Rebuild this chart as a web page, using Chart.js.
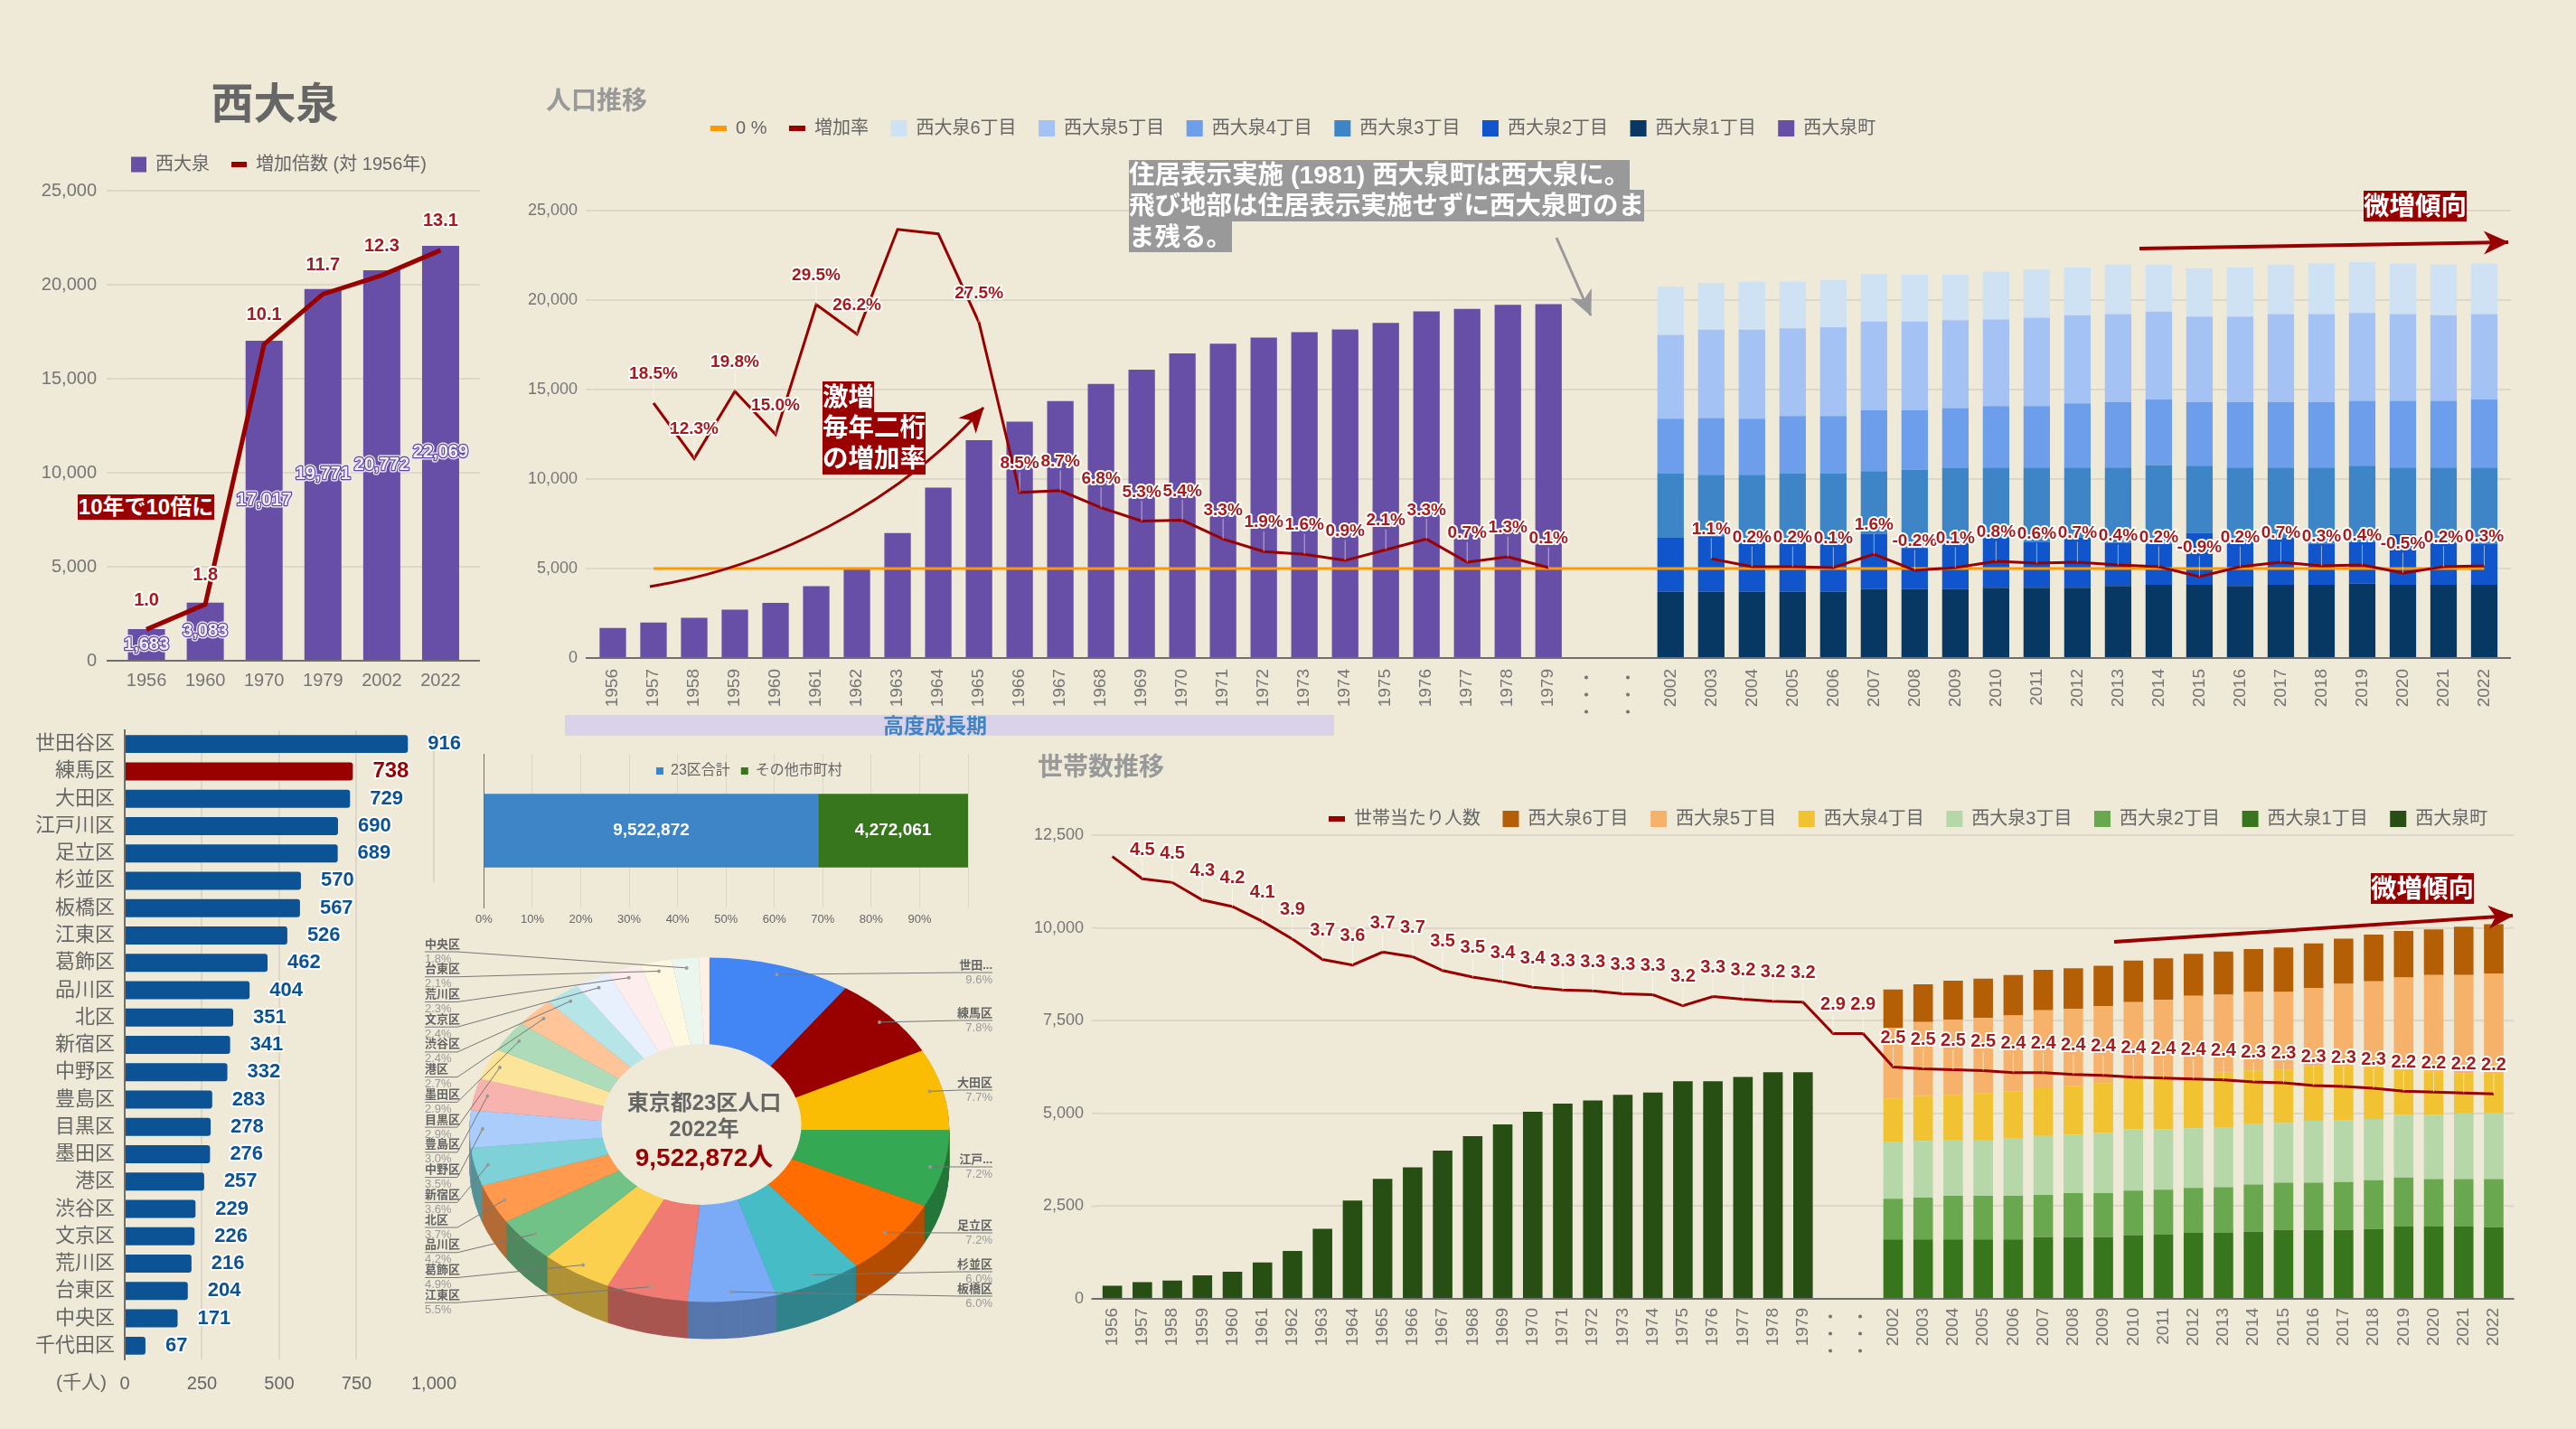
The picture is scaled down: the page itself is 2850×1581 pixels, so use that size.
<!DOCTYPE html>
<html lang="ja">
<head>
<meta charset="utf-8">
<title>西大泉 人口推移</title>
<script src="https://cdn.jsdelivr.net/npm/chart.js@4/dist/chart.umd.min.js"></script>
<style>
  html, body { margin: 0; background: #efe9d8; }
  body { position: relative; width: 2850px; height: 1581px; overflow: hidden;
         font-family: "Liberation Sans", "Noto Sans CJK JP", sans-serif; }
  canvas, svg, .title, .tag, .note { position: absolute; }
  svg { left: 0; top: 0; }
  .title { font-weight: bold; color: #999; font-size: 28px; line-height: 32px; white-space: nowrap; }
  .tag { background: #990000; color: #fff; font-weight: bold; font-size: 28.5px; white-space: nowrap; }
  .tag.gray { background: #999; }
  .note { white-space: nowrap; }
</style>
</head>
<body>
<canvas id="districts"></canvas>
<canvas id="pie"></canvas>
<canvas id="share"></canvas>
<canvas id="summary"></canvas>
<canvas id="population"></canvas>
<canvas id="households"></canvas>

<svg width="2850" height="1581">
  <defs>
    <marker id="headRed" markerWidth="10" markerHeight="10" refX="9" refY="5" orient="auto" markerUnits="userSpaceOnUse" viewBox="0 0 10 10" style="overflow:visible">
      <path d="M-18,-8 L10,5 L-18,18 L-10,5 Z" fill="#990000"/>
    </marker>
    <marker id="headGray" markerWidth="10" markerHeight="10" refX="9" refY="5" orient="auto" markerUnits="userSpaceOnUse" viewBox="0 0 10 10" style="overflow:visible">
      <path d="M-18,-8 L10,5 L-18,18 L-10,5 Z" fill="#999"/>
    </marker>
  </defs>
  <path d="M719 649 C 850 628, 990 560, 1088 451" fill="none" stroke="#990000" stroke-width="3" marker-end="url(#headRed)"/>
  <line x1="1722" y1="263" x2="1760" y2="349" stroke="#999" stroke-width="3" marker-end="url(#headGray)"/>
  <line x1="2367" y1="275" x2="2775" y2="268" stroke="#990000" stroke-width="4" marker-end="url(#headRed)"/>
  <line x1="2339" y1="1042" x2="2780" y2="1013" stroke="#990000" stroke-width="4" marker-end="url(#headRed)"/>
</svg>

<div class="title" style="left:304px;top:90px;transform:translateX(-50%);font-size:47px;line-height:50px;color:#666">西大泉</div>
<div class="title" style="left:604px;top:96px">人口推移</div>
<div class="title" style="left:1148px;top:833px">世帯数推移</div>

<div class="tag" style="left:86px;top:547px;width:151px;height:28px;line-height:28px;font-size:24px;text-align:center">10年で10倍に</div>
<div class="tag" style="left:910px;top:422px;height:34px;line-height:34px">激増</div>
<div class="tag" style="left:910px;top:456px;height:34px;line-height:34px">毎年二桁</div>
<div class="tag" style="left:910px;top:490px;height:35px;line-height:35px">の増加率</div>
<div class="tag gray" style="left:1249px;top:177px;height:33px;line-height:33px">住居表示実施 (1981) 西大泉町は西大泉に。</div>
<div class="tag gray" style="left:1249px;top:210px;height:35px;line-height:35px">飛び地部は住居表示実施せずに西大泉町のま</div>
<div class="tag gray" style="left:1249px;top:245px;height:34px;line-height:34px">ま残る。</div>
<div class="tag" style="left:2615px;top:211px;height:34px;line-height:34px">微増傾向</div>
<div class="tag" style="left:2623px;top:966px;height:34px;line-height:34px">微増傾向</div>
<div class="note" style="left:625px;top:791px;width:851px;height:23px;line-height:24px;background:#d9d2e9;color:#3d85c6;font-size:23px;font-weight:bold;text-align:center;box-sizing:border-box;padding-right:32px">高度成長期</div>
<div class="note" style="left:62px;top:1517px;font-size:21px;line-height:24px;color:#666">(千人)</div>

<script>
// ---- summary chart (left top)
const summaryYears = ['1956', '1960', '1970', '1979', '2002', '2022'];
const summaryPopulation = [1683, 3083, 17017, 19771, 20772, 22069];
const summaryMultiple = [1.0, 1.8, 10.1, 11.7, 12.3, 13.1];

// ---- population chart
const earlyYears = ['1956', '1957', '1958', '1959', '1960', '1961', '1962', '1963', '1964', '1965', '1966', '1967',
  '1968', '1969', '1970', '1971', '1972', '1973', '1974', '1975', '1976', '1977', '1978', '1979'];
const gapLabels = ['・・・', '・・・'];
const lateYears = ['2002', '2003', '2004', '2005', '2006', '2007', '2008', '2009', '2010', '2011', '2012',
  '2013', '2014', '2015', '2016', '2017', '2018', '2019', '2020', '2021', '2022'];

const townPopulation = [1683, 1980, 2246, 2705, 3083, 4010, 4950, 6980, 9516, 12170, 13210, 14350,
  15310, 16110, 17017, 17560, 17900, 18210, 18360, 18720, 19370, 19510, 19730, 19771];
const pop1 = [3702, 3702, 3702, 3702, 3702, 3862, 3862, 3862, 3930, 3930, 3930, 4022, 4090, 4090, 4022, 4090, 4090, 4159, 4090, 4090, 4090];
const pop2 = [3016, 3062, 2833, 2902, 3016, 3085, 2285, 2582, 2788, 2559, 2788, 2422, 2285, 2902, 2514, 2628, 2285, 2331, 2856, 2354, 2285];
const pop3 = [3610, 3473, 3702, 3725, 3610, 3496, 4387, 4159, 3930, 4159, 3930, 4204, 4410, 3747, 4113, 3930, 4273, 4250, 3702, 4204, 4273];
const pop4 = [3039, 3176, 3130, 3199, 3199, 3405, 3313, 3359, 3428, 3428, 3587, 3656, 3656, 3565, 3656, 3656, 3656, 3633, 3725, 3725, 3793];
const pop5 = [4684, 4936, 4981, 4890, 4958, 4958, 4958, 4913, 4844, 4936, 4913, 4913, 4913, 4776, 4776, 4913, 4913, 4913, 4844, 4776, 4776];
const pop6 = [2696, 2605, 2673, 2605, 2628, 2651, 2605, 2536, 2673, 2696, 2673, 2765, 2628, 2696, 2742, 2765, 2833, 2833, 2833, 2833, 2833];
const earlyRate = [null, 18.5, 12.3, 19.8, 15.0, 29.5, 26.2, 37.9, 37.4, 27.5, 8.5, 8.7,
  6.8, 5.3, 5.4, 3.3, 1.9, 1.6, 0.9, 2.1, 3.3, 0.7, 1.3, 0.1];
const lateRate = [null, 1.1, 0.2, 0.2, 0.1, 1.6, -0.2, 0.1, 0.8, 0.6, 0.7, 0.4, 0.2, -0.9, 0.2, 0.7, 0.3, 0.4, -0.5, 0.2, 0.3];
const rateWithoutLabel = ['1963', '1964'];

// ---- households chart
const townHouseholds = [356, 453, 496, 636, 733, 981, 1294, 1887, 2652, 3234, 3547, 3999,
  4387, 4700, 5045, 5261, 5347, 5498, 5562, 5864, 5864, 5983, 6112, 6112];
const hh1 = [1600, 1600, 1600, 1600, 1600, 1660, 1660, 1660, 1720, 1730, 1790, 1790, 1810, 1860, 1860, 1860, 1880, 1950, 1950, 1950, 1930];
const hh2 = [1100, 1130, 1180, 1180, 1180, 1140, 1190, 1190, 1200, 1210, 1200, 1220, 1270, 1270, 1270, 1290, 1320, 1320, 1280, 1280, 1300];
const hh3 = [1520, 1530, 1510, 1510, 1540, 1590, 1570, 1620, 1650, 1630, 1610, 1620, 1630, 1610, 1670, 1670, 1650, 1690, 1730, 1770, 1780];
const hh4 = [1180, 1210, 1210, 1250, 1280, 1310, 1310, 1350, 1350, 1350, 1330, 1470, 1450, 1440, 1480, 1460, 1400, 1220, 1170, 1080, 1070];
const hh5 = [1910, 1990, 2030, 2030, 2040, 2080, 2090, 2070, 2080, 2140, 2240, 2100, 2110, 2090, 2100, 2210, 2310, 2480, 2600, 2650, 2690];
const hh6 = [1030, 1020, 1050, 1060, 1090, 1090, 1090, 1090, 1120, 1120, 1130, 1160, 1160, 1200, 1200, 1220, 1260, 1260, 1230, 1300, 1330];
const earlySize = [4.77, 4.53, 4.49, 4.30, 4.23, 4.07, 3.88, 3.66, 3.60, 3.74, 3.69, 3.54,
  3.47, 3.42, 3.36, 3.33, 3.32, 3.29, 3.28, 3.16, 3.26, 3.23, 3.21, 3.20];
const gapSize = [2.86, 2.86];
const lateSize = [2.50, 2.48, 2.47, 2.46, 2.44, 2.44, 2.42, 2.41, 2.39, 2.38, 2.37, 2.36, 2.34, 2.33, 2.30, 2.29, 2.27, 2.24, 2.23, 2.22, 2.21];
const sizeWithoutLabel = ['1956'];

// ---- 23 wards, thousands of people
const wardNames = ['世田谷区', '練馬区', '大田区', '江戸川区', '足立区', '杉並区', '板橋区', '江東区', '葛飾区', '品川区', '北区', '新宿区',
  '中野区', '豊島区', '目黒区', '墨田区', '港区', '渋谷区', '文京区', '荒川区', '台東区', '中央区', '千代田区'];
const wardValues = [916, 738, 729, 690, 689, 570, 567, 526, 462, 404, 351, 341, 332, 283, 278, 276, 257, 229, 226, 216, 204, 171, 67];
const pieColors = ['#4285f4', '#990000', '#fbbc04', '#34a853', '#ff6d01', '#46bdc6', '#7baaf7', '#f07b72', '#fcd04f', '#71c287', '#ff994d', '#7ed1d7',
  '#abcdfb', '#f7b4ae', '#fde49b', '#aedcba', '#ffc599', '#b5e5e7', '#e8f0fe', '#fdeeed', '#fff8e1', '#ebf7ee', '#fff0e6'];

// ---- tokyo share
const shareLabels = ['23区合計', 'その他市町村'];
const shareValues = [9522872, 4272061];

const FONT = '"Liberation Sans", "Noto Sans CJK JP", sans-serif';
const GRID = '#dcd7c8';
const AXIS = '#6e6e6e';
const TICK = '#757575';
const RED = '#990000';
const LABEL_RED = '#a61c1c';
const BG = '#efe9d8';

Chart.defaults.font.family = FONT;
Chart.defaults.color = TICK;
Chart.defaults.animation = false;
Chart.defaults.locale = 'en-US';

// value labels with a halo, the chart library has none of its own
const haloLabels = {
  id: 'haloLabels',
  afterDatasetsDraw(chart) {
    const ctx = chart.ctx;
    chart.data.datasets.forEach((ds, d) => {
      const h = ds.halo;
      if (!h) return;
      chart.getDatasetMeta(d).data.forEach((el, i) => {
        const v = ds.data[i];
        if (v === null || v === undefined) return;
        if (h.skip && h.skip.includes(chart.data.labels[i])) return;
        const size = h.size instanceof Function ? h.size(i) : h.size;
        const color = h.color instanceof Function ? h.color(i) : h.color;
        let x = el.x, y = el.y;
        ctx.save();
        ctx.font = `bold ${size}px ${FONT}`;
        ctx.textAlign = 'center';
        ctx.textBaseline = 'middle';
        if (h.mode === 'center') {
          if (chart.options.indexAxis === 'y') x = (el.x + el.base) / 2;
          else y = (el.y + el.base) / 2;
        } else if (h.mode === 'end') {
          x = el.x + h.gap;
          ctx.textAlign = 'left';
        } else {
          if (h.leader) {
            ctx.strokeStyle = 'rgba(255,255,255,0.55)';
            ctx.lineWidth = 1;
            ctx.beginPath();
            ctx.moveTo(x, y);
            ctx.lineTo(x, y - h.dy + size / 2);
            ctx.stroke();
          }
          y -= h.dy;
        }
        const text = h.format(v);
        ctx.lineJoin = 'round';
        if (h.halo !== false) {
          ctx.strokeStyle = h.haloColor || '#fff';
          ctx.lineWidth = h.haloWidth || 4;
          ctx.strokeText(text, x, y);
        }
        if (h.rim) {
          ctx.strokeStyle = h.rim;
          ctx.lineWidth = h.rimWidth;
          ctx.strokeText(text, x, y);
        }
        ctx.fillStyle = color;
        ctx.fillText(text, x, y);
        ctx.restore();
      });
    });
  },
};

// legend sits at a fixed spot instead of centred over the canvas
const legendAt = {
  id: 'legendAt',
  afterLayout(chart, args, opts) {
    if (opts.x === undefined || !chart.legend) return;
    const l = chart.legend;
    l.left = opts.x;
    l.right = chart.width;
    l.top = opts.y;
    l.bottom = opts.y + 70;
  },
};

// grid and base line run a little past the first and last bar
const gridBleed = {
  id: 'gridBleed',
  beforeDatasetsDraw(chart, args, opts) {
    if (opts.left === undefined) return;
    const ctx = chart.ctx, y = chart.scales.y, area = chart.chartArea;
    ctx.save();
    ctx.lineWidth = 2;
    y.ticks.forEach((t, i) => {
      const py = y.getPixelForTick(i);
      ctx.strokeStyle = t.value === 0 ? AXIS : GRID;
      ctx.beginPath();
      ctx.moveTo(area.left - opts.left, py);
      ctx.lineTo(area.left, py);
      ctx.moveTo(area.right, py);
      ctx.lineTo(area.right + opts.right, py);
      ctx.stroke();
    });
    ctx.restore();
  },
};
Chart.register(haloLabels, legendAt, gridBleed);

function mount(id, rect) {
  const c = document.getElementById(id);
  c.width = rect.w;
  c.height = rect.h;
  c.style.left = rect.x + 'px';
  c.style.top = rect.y + 'px';
  return c;
}

function layoutFor(rect, plot, legendH, axisW) {
  return {
    padding: {
      left: plot.l - rect.x - axisW,
      top: plot.t - rect.y - legendH,
      right: rect.x + rect.w - plot.r,
      bottom: 0,
    },
  };
}

function legendOptions(rect, x, cy, fontSize, box, gap) {
  return {
    legend: {
      display: true,
      position: 'top',
      align: 'start',
      reverse: true,
      labels: {
        usePointStyle: true,
        pointStyleWidth: box,
        boxHeight: box,
        padding: gap,
        color: '#666',
        font: { size: fontSize },
        generateLabels(chart) {
          const items = Chart.defaults.plugins.legend.labels.generateLabels(chart);
          items.forEach((it) => {
            const isLine = chart.data.datasets[it.datasetIndex].type === 'line';
            it.pointStyle = isLine ? 'line' : 'rect';
            it.lineWidth = isLine ? 6 : 0;
          });
          return items.sort((a, b) => a.datasetIndex - b.datasetIndex);
        },
      },
    },
    legendAt: { x: x - gap - rect.x, y: cy - fontSize / 2 - gap - rect.y },
  };
}

function yScale(axisW, max, step, pad, fontSize) {
  return {
    min: 0,
    max,
    afterFit(s) { s.width = axisW; },
    ticks: { stepSize: step, padding: pad, font: { size: fontSize } },
    grid: { color: GRID, lineWidth: 2, drawTicks: false },
    border: { display: false },
  };
}

function yearScale(h, pad, fontSize, rotated, stacked) {
  return {
    stacked,
    afterFit(s) { s.height = h; },
    ticks: {
      autoSkip: false,
      padding: pad,
      font: { size: fontSize },
      minRotation: rotated ? 90 : 0,
      maxRotation: rotated ? 90 : 0,
    },
    grid: { display: false, drawTicks: false },
    border: { color: AXIS, width: 2 },
  };
}

const early = (a) => a.concat(gapLabels.map(() => null), lateYears.map(() => null));
const late = (a) => earlyYears.map(() => null).concat(gapLabels.map(() => null), a);
const stackBar = (label, data, color) => ({ label, data, backgroundColor: color, stack: 'all', order: 3, barPercentage: 0.65, categoryPercentage: 1 });

// ---- summary
(function () {
  const rect = { x: 0, y: 150, w: 560, h: 620 };
  const plot = { l: 129.5, t: 211, r: 520, b: 731 };
  const legend = legendOptions(rect, 145, 182, 20, 17, 24);
  legend.legend.reverse = false;
  new Chart(mount('summary', rect), {
    type: 'bar',
    data: {
      labels: summaryYears,
      datasets: [
        {
          label: '西大泉', data: summaryPopulation, backgroundColor: '#674ea7', order: 2,
          barPercentage: 0.63, categoryPercentage: 1,
          halo: { mode: 'center', size: 20, color: '#f0ecf9', haloColor: '#efebf8', haloWidth: 5, rim: '#5f48a0', rimWidth: 2.5, format: (v) => v.toLocaleString('en-US') },
        },
        {
          type: 'line', label: '増加倍数 (対 1956年)', data: summaryMultiple, yAxisID: 'y2', order: 1,
          borderColor: RED, backgroundColor: RED, borderWidth: 5, pointRadius: 0,
          halo: { dy: 32, size: 20, color: LABEL_RED, format: (v) => v.toFixed(1) },
        },
      ],
    },
    options: {
      responsive: false,
      layout: layoutFor(rect, plot, 54, 100),
      plugins: Object.assign({ tooltip: { enabled: false }, gridBleed: { left: 11.5, right: 11 } }, legend),
      scales: {
        x: yearScale(rect.y + rect.h - plot.b, 10, 20, false, false),
        y: yScale(100, 25000, 5000, 22.5, 20),
        y2: { display: false, min: 0, max: 15 },
      },
    },
  });
})();

// ---- population
(function () {
  const rect = { x: 560, y: 120, w: 2290, h: 680 };
  const plot = { l: 655.5, t: 233, r: 2771, b: 728 };
  const labels = earlyYears.concat(gapLabels, lateYears);
  new Chart(mount('population', rect), {
    type: 'bar',
    data: {
      labels,
      datasets: [
        stackBar('西大泉町', early(townPopulation), '#674ea7'),
        stackBar('西大泉1丁目', late(pop1), '#073763'),
        stackBar('西大泉2丁目', late(pop2), '#1155cc'),
        stackBar('西大泉3丁目', late(pop3), '#3d85c6'),
        stackBar('西大泉4丁目', late(pop4), '#6d9eeb'),
        stackBar('西大泉5丁目', late(pop5), '#a4c2f4'),
        stackBar('西大泉6丁目', late(pop6), '#cfe2f3'),
        {
          type: 'line', label: '増加率', data: earlyRate.concat(gapLabels.map(() => null), lateRate), yAxisID: 'y2', order: 1,
          borderColor: RED, backgroundColor: RED, borderWidth: 3, pointRadius: 0,
          halo: { dy: 32, size: 19, color: LABEL_RED, leader: true, skip: rateWithoutLabel, format: (v) => v.toFixed(1) + '%' },
        },
        {
          type: 'line', label: '0 %', data: labels.map((l, i) => (i === 0 ? null : 0)), yAxisID: 'y2', order: 2,
          borderColor: '#ff9900', backgroundColor: '#ff9900', borderWidth: 3, pointRadius: 0,
        },
      ],
    },
    options: {
      responsive: false,
      layout: layoutFor(rect, plot, 54.5, 90),
      plugins: Object.assign({ tooltip: { enabled: false }, gridBleed: { left: 7.5, right: 7 } }, legendOptions(rect, 786, 142, 20, 18, 24.5)),
      scales: {
        x: yearScale(rect.y + rect.h - plot.b, 12, 19, true, true),
        y: Object.assign(yScale(90, 25000, 5000, 16.5, 18), { stacked: true }),
        y2: { display: false, min: -10, max: 40 },
      },
    },
  });
})();

// ---- households
(function () {
  const rect = { x: 1120, y: 860, w: 1730, h: 670 };
  const plot = { l: 1214, t: 924, r: 2775.6, b: 1437 };
  const labels = earlyYears.concat(gapLabels, lateYears);
  new Chart(mount('households', rect), {
    type: 'bar',
    data: {
      labels,
      datasets: [
        stackBar('西大泉町', early(townHouseholds), '#274e13'),
        stackBar('西大泉1丁目', late(hh1), '#38761d'),
        stackBar('西大泉2丁目', late(hh2), '#6aa84f'),
        stackBar('西大泉3丁目', late(hh3), '#b6d7a8'),
        stackBar('西大泉4丁目', late(hh4), '#f1c232'),
        stackBar('西大泉5丁目', late(hh5), '#f6b26b'),
        stackBar('西大泉6丁目', late(hh6), '#b45f06'),
        {
          type: 'line', label: '世帯当たり人数', data: earlySize.concat(gapSize, lateSize), yAxisID: 'y2', order: 1,
          borderColor: RED, backgroundColor: RED, borderWidth: 3, pointRadius: 0,
          halo: { dy: 32, size: 20, color: LABEL_RED, leader: true, skip: sizeWithoutLabel, format: (v) => v.toFixed(1) },
        },
      ],
    },
    options: {
      responsive: false,
      layout: layoutFor(rect, plot, 54.5, 90),
      plugins: Object.assign({ tooltip: { enabled: false }, gridBleed: { left: 6.5, right: 6 } }, legendOptions(rect, 1470, 906, 20, 18, 24.5)),
      scales: {
        x: yearScale(rect.y + rect.h - plot.b, 10, 19, true, true),
        y: Object.assign(yScale(90, 12500, 2500, 15, 18), { stacked: true }),
        y2: { display: false, min: 0, max: 5 },
      },
    },
  });
})();

// ---- wards as bars
(function () {
  const rect = { x: 0, y: 770, w: 520, h: 780 };
  const plot = { l: 138, t: 808, r: 481, b: 1504 };
  const isNerima = (i) => wardNames[i] === '練馬区';
  new Chart(mount('districts', rect), {
    type: 'bar',
    data: {
      labels: wardNames,
      datasets: [{
        data: wardValues,
        backgroundColor: wardNames.map((n, i) => (isNerima(i) ? RED : '#0b5394')),
        borderRadius: 3,
        barPercentage: 0.66,
        categoryPercentage: 1,
        halo: {
          mode: 'end', gap: 22,
          size: (i) => (isNerima(i) ? 24 : 22),
          color: (i) => (isNerima(i) ? RED : '#0b5394'),
          format: (v) => String(v),
        },
      }],
    },
    options: {
      indexAxis: 'y',
      responsive: false,
      layout: { padding: { left: plot.l - rect.x - 138, top: plot.t - rect.y, right: rect.x + rect.w - plot.r, bottom: 0 } },
      plugins: { legend: { display: false }, tooltip: { enabled: false } },
      scales: {
        x: {
          min: 0, max: 1000,
          afterFit(s) { s.height = rect.y + rect.h - plot.b; },
          ticks: { stepSize: 250, padding: 15, font: { size: 20 }, color: '#666' },
          grid: { color: GRID, lineWidth: 2, drawTicks: false },
          border: { display: false },
        },
        y: {
          afterFit(s) { s.width = 138; },
          ticks: { autoSkip: false, padding: 11, font: { size: 22 }, color: '#666' },
          grid: { display: false, drawTicks: false },
          border: { color: AXIS, width: 2 },
        },
      },
    },
  });
})();

// ---- 23 wards vs rest of Tokyo
(function () {
  const rect = { x: 520, y: 790, w: 600, h: 250 };
  const plot = { l: 532.5, t: 834, r: 1071, b: 1004 };
  const total = shareValues[0] + shareValues[1];
  const legend = legendOptions(rect, 726, 853, 16, 8, 12);
  legend.legend.reverse = false;
  const colors = ['#3d85c6', '#38761d'];
  new Chart(mount('share', rect), {
    type: 'bar',
    data: {
      labels: [''],
      datasets: shareLabels.map((label, i) => ({
        label,
        data: [shareValues[i]],
        backgroundColor: colors[i],
        barPercentage: 0.48,
        categoryPercentage: 1,
        halo: { mode: 'center', size: 19, color: '#fff', halo: false, format: (v) => v.toLocaleString('en-US') },
      })),
    },
    options: {
      indexAxis: 'y',
      responsive: false,
      layout: layoutFor(rect, plot, 38, 0),
      plugins: Object.assign({ tooltip: { enabled: false } }, legend),
      scales: {
        x: {
          stacked: true, min: 0, max: total,
          afterFit(s) { s.height = rect.y + rect.h - plot.b; },
          ticks: {
            stepSize: total / 10, autoSkip: false, padding: 6, font: { size: 13 }, color: '#666',
            callback(v) {
              const p = Math.round(v / total * 100);
              return p < 100 ? p + '%' : '';
            },
          },
          grid: { color: GRID, lineWidth: 1, drawTicks: false },
          border: { display: false },
        },
        y: {
          stacked: true,
          afterFit(s) { s.width = 0; },
          ticks: { display: false },
          grid: { display: false, drawTicks: false },
          border: { color: AXIS, width: 1 },
        },
      },
    },
  });
})();

// ---- wards as a tilted pie
(function () {
  const rect = { x: 465, y: 976, w: 650, h: 540 };
  const cx = 784.8 - rect.x, cy = 1250 - rect.y, R = 265.5;
  const squash = 190.5 / 265.5;
  const depth = 41;
  const rightRowY = [1068, 1121, 1198, 1283, 1356, 1399, 1426].map((y) => y - rect.y);
  const leftRowTop = 1045 - rect.y, leftRowStep = 27.73;
  const textLeft = 470 - rect.x, textRight = 1098 - rect.x;
  const holeX = 776 - rect.x, holeY = 1244 - rect.y;
  const total = wardValues.reduce((a, b) => a + b, 0);

  function darken(hex) {
    const n = parseInt(hex.slice(1), 16);
    const f = 0.7;
    return `rgb(${((n >> 16) & 255) * f},${((n >> 8) & 255) * f},${(n & 255) * f})`;
  }

  const tiltedPie = {
    id: 'tiltedPie',
    beforeDatasetsDraw(chart) {
      const ctx = chart.ctx;
      const arcs = chart.getDatasetMeta(0).data;
      for (let d = depth; d >= 1; d--) {
        arcs.forEach((a, i) => {
          ctx.fillStyle = darken(pieColors[i]);
          ctx.beginPath();
          ctx.moveTo(a.x, a.y + d);
          ctx.ellipse(a.x, a.y + d, a.outerRadius, a.outerRadius * squash, 0, a.startAngle, a.endAngle);
          ctx.closePath();
          ctx.fill();
        });
      }
      ctx.save();
      ctx.translate(cx, cy);
      ctx.scale(1, squash);
      ctx.translate(-cx, -cy);
    },
    afterDatasetsDraw(chart) {
      const ctx = chart.ctx;
      ctx.restore();
      const arcs = chart.getDatasetMeta(0).data;

      ctx.fillStyle = BG;
      ctx.beginPath();
      ctx.ellipse(holeX, holeY, 110.6, 89, 0, 0, Math.PI * 2);
      ctx.fill();

      ctx.textAlign = 'center';
      ctx.textBaseline = 'middle';
      ctx.fillStyle = '#666';
      ctx.font = `bold 24px ${FONT}`;
      ctx.fillText('東京都23区人口', holeX + 3, holeY - 23);
      ctx.fillText('2022年', holeX + 3, holeY + 6);
      ctx.fillStyle = RED;
      ctx.font = `bold 28px ${FONT}`;
      ctx.fillText(shareValues[0].toLocaleString('en-US') + '人', holeX + 3, holeY + 38);

      arcs.forEach((a, i) => {
        if (wardNames[i] === '千代田区') return;
        const isRight = i < rightRowY.length;
        const rowY = isRight ? rightRowY[i] : leftRowTop + (21 - i) * leftRowStep;
        const mid = (a.startAngle + a.endAngle) / 2;
        const px = a.x + Math.cos(mid) * R * 0.945;
        const py = a.y + Math.sin(mid) * R * 0.945 * squash;
        const lineY = rowY + 8;
        const textX = isRight ? textRight : textLeft;
        const elbow = isRight ? textRight - 36 : textLeft + 36;

        ctx.strokeStyle = '#777';
        ctx.lineWidth = 1;
        ctx.beginPath();
        ctx.moveTo(textX, lineY);
        ctx.lineTo(elbow, lineY);
        ctx.lineTo(px, py);
        ctx.stroke();
        ctx.fillStyle = '#999';
        ctx.beginPath();
        ctx.arc(px, py, 2, 0, Math.PI * 2);
        ctx.fill();

        const name = wardNames[i].length > 3 ? wardNames[i].slice(0, 2) + '...' : wardNames[i];
        ctx.textAlign = isRight ? 'right' : 'left';
        ctx.fillStyle = '#666';
        ctx.font = `bold 13px ${FONT}`;
        ctx.fillText(name, textX, rowY);
        ctx.fillStyle = '#999';
        ctx.font = `13px ${FONT}`;
        ctx.fillText((wardValues[i] / total * 100).toFixed(1) + '%', textX, rowY + 16);
      });
    },
  };

  const c = mount('pie', rect);
  c.style.background = BG;
  new Chart(c, {
    type: 'pie',
    data: {
      labels: wardNames,
      datasets: [{ data: wardValues, backgroundColor: pieColors, borderWidth: 0, clip: false }],
    },
    options: {
      responsive: false,
      layout: { padding: { left: cx - R, right: rect.w - cx - R, top: cy - R, bottom: rect.h - cy - R } },
      plugins: { legend: { display: false }, tooltip: { enabled: false } },
    },
    plugins: [tiltedPie],
  });
})();
</script>
</body>
</html>
